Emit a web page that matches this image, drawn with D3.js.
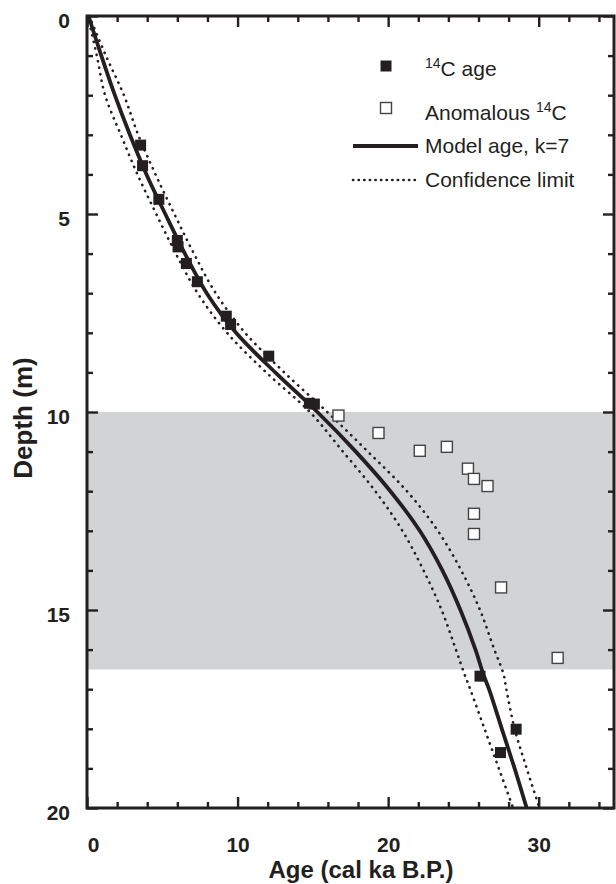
<!DOCTYPE html>
<html>
<head>
<meta charset="utf-8">
<script src="https://cdn.jsdelivr.net/npm/d3@7"></script>
<style>
	body { margin: 0; background: #fff; }
	svg { display: block; font-family: "Liberation Sans", Arial, Helvetica, sans-serif; }
</style>
</head>
<body>
<div id="chart"></div>
<script>
// 14C ages (filled squares)
const c14Age   = [3.56, 3.69, 4.77, 6.0, 6.05, 6.6, 7.33, 9.25, 9.54, 12.07, 14.77, 15.1, 26.1, 28.5, 27.46];
const c14Depth = [3.26, 3.78, 4.63, 5.67, 5.83, 6.25, 6.71, 7.58, 7.79, 8.59, 9.78, 9.8, 16.67, 18.01, 18.6];

// anomalous 14C (open squares)
const anomAge   = [16.7, 19.36, 22.1, 23.9, 25.3, 25.7, 26.6, 25.7, 25.7, 27.5, 31.26];
const anomDepth = [10.09, 10.53, 10.98, 10.88, 11.43, 11.69, 11.87, 12.57, 13.08, 14.43, 16.21];

// model age curve + confidence limits, read at these depths
const curveDepth = [0, 1, 2, 3, 4, 5, 6, 7, 8, 9, 10, 11, 12, 13, 14, 15, 16, 16.6, 17, 18, 19, 20];
const modelAge   = [0.1, 0.95, 1.85, 2.85, 3.95, 5.2, 6.5, 7.95, 9.9, 12.5, 15.3, 17.85, 20.15, 22.1, 23.6, 24.8, 25.8, 26.3, 26.7, 27.55, 28.4, 29.2];
const lowerAge   = [0.05, 0.65, 1.2, 2.25, 3.35, 4.6, 5.9, 7.35, 9.3, 11.9, 14.8, 17.0, 19.15, 20.95, 22.35, 23.55, 24.5, 25.05, 25.45, 26.4, 27.35, 28.3];
const upperAge   = [0.15, 1.25, 2.45, 3.4, 4.55, 5.8, 7.1, 8.55, 10.5, 13.1, 15.95, 18.65, 21.25, 23.3, 24.85, 26.1, 27.05, 27.65, 27.85, 28.4, 29.2, 30.05];

// shaded depth interval
const bandDepth = [10, 16.5];

const xMajor = [0, 10, 20, 30];
const yMajor = [0, 5, 10, 15, 20];

const width = 616, height = 884;
const margin = { left: 87, right: 2, top: 16, bottom: 76 };
const ink = "#231f20";

const svg = d3.select("#chart").append("svg")
	.attr("width", width)
	.attr("height", height);

const x = d3.scaleLinear().domain([0, 35]).range([margin.left, width - margin.right]);
const y = d3.scaleLinear().domain([0, 20]).range([margin.top, height - margin.bottom]);

// grey band
svg.append("rect")
	.attr("x", x(0))
	.attr("width", x(35) - x(0))
	.attr("y", y(bandDepth[0]))
	.attr("height", y(bandDepth[1]) - y(bandDepth[0]))
	.attr("fill", "#d1d3d4");

// curves
const line = (ages) => d3.line()
	.x((d, i) => x(ages[i]))
	.y((d) => y(d))
	.curve(d3.curveCatmullRom)(curveDepth);

svg.append("path")
	.attr("d", line(lowerAge))
	.attr("fill", "none").attr("stroke", ink)
	.attr("stroke-width", 2.6).attr("stroke-linecap", "round")
	.attr("stroke-dasharray", "0.3 6.3");

svg.append("path")
	.attr("d", line(upperAge))
	.attr("fill", "none").attr("stroke", ink)
	.attr("stroke-width", 2.6).attr("stroke-linecap", "round")
	.attr("stroke-dasharray", "0.3 6.3");

svg.append("path")
	.attr("d", line(modelAge))
	.attr("fill", "none").attr("stroke", ink)
	.attr("stroke-width", 3.8);

// points
const sq = 11;
svg.append("g").selectAll("rect")
	.data(anomAge)
	.enter().append("rect")
	.attr("x", (d) => x(d) - sq / 2)
	.attr("y", (d, i) => y(anomDepth[i]) - sq / 2)
	.attr("width", sq).attr("height", sq)
	.attr("fill", "#fff").attr("stroke", "#444").attr("stroke-width", 1.4);

svg.append("g").selectAll("rect")
	.data(c14Age)
	.enter().append("rect")
	.attr("x", (d) => x(d) - sq / 2)
	.attr("y", (d, i) => y(c14Depth[i]) - sq / 2)
	.attr("width", sq).attr("height", sq)
	.attr("fill", ink);

// axes: ticks point inward, minor every 2 ka / 1 m
function styleAxis(g) {
	g.select(".domain").remove();
	g.selectAll(".tick line").attr("stroke", ink).attr("stroke-width", 2.4);
	g.selectAll("text")
		.attr("fill", ink)
		.style("font-size", "21px")
		.style("font-weight", "bold")
		.style("font-family", "'Liberation Sans', Arial, sans-serif");
}

const xMinor = d3.range(0, 35, 2).filter((v) => !xMajor.includes(v));
const yMinor = d3.range(0, 21, 1).filter((v) => !yMajor.includes(v));

// bottom
svg.append("g").attr("transform", `translate(0,${y(20)})`)
	.call(d3.axisBottom(x).tickValues(xMinor).tickSize(-6).tickFormat(""))
	.call(styleAxis);
svg.append("g").attr("transform", `translate(0,${y(20)})`)
	.call(d3.axisBottom(x).tickValues(xMajor).tickSize(-11).tickPadding(29).tickFormat(d3.format("d")))
	.call(styleAxis)
	.call((g) => g.selectAll("text").attr("dx", (d) => d === 0 ? 6 : 0));
// top
svg.append("g").attr("transform", `translate(0,${y(0)})`)
	.call(d3.axisTop(x).tickValues(xMinor).tickSize(-6).tickFormat(""))
	.call(styleAxis);
svg.append("g").attr("transform", `translate(0,${y(0)})`)
	.call(d3.axisTop(x).tickValues(xMajor).tickSize(-11).tickFormat(""))
	.call(styleAxis);
// left
svg.append("g").attr("transform", `translate(${x(0)},0)`)
	.call(d3.axisLeft(y).tickValues(yMinor).tickSize(-6).tickFormat(""))
	.call(styleAxis);
svg.append("g").attr("transform", `translate(${x(0)},0)`)
	.call(d3.axisLeft(y).tickValues(yMajor).tickSize(-11).tickPadding(17).tickFormat(d3.format("d")))
	.call(styleAxis)
	.call((g) => g.selectAll("text").attr("dy", "0.55em"));
// right
svg.append("g").attr("transform", `translate(${x(35)},0)`)
	.call(d3.axisRight(y).tickValues(yMinor).tickSize(-6).tickFormat(""))
	.call(styleAxis);
svg.append("g").attr("transform", `translate(${x(35)},0)`)
	.call(d3.axisRight(y).tickValues(yMajor).tickSize(-11).tickFormat(""))
	.call(styleAxis);

// frame
svg.append("rect")
	.attr("x", x(0)).attr("y", y(0))
	.attr("width", x(35) - x(0)).attr("height", y(20) - y(0))
	.attr("fill", "none").attr("stroke", ink).attr("stroke-width", 3);

// axis titles
svg.append("text")
	.attr("x", 361).attr("y", 878)
	.attr("text-anchor", "middle")
	.attr("fill", ink)
	.style("font-size", "24px").style("font-weight", "bold")
	.text("Age (cal ka B.P.)");

svg.append("text")
	.attr("transform", `translate(32,${(y(0) + y(20)) / 2 + 6}) rotate(-90)`)
	.attr("text-anchor", "middle")
	.attr("fill", ink)
	.style("font-size", "26px").style("font-weight", "bold")
	.text("Depth (m)");

// legend
const legend = svg.append("g").style("font-size", "21px").attr("fill", ink);
const legY = { age: 66, anom: 108, model: 146, conf: 180 };

legend.append("rect")
	.attr("x", 386 - sq / 2).attr("y", legY.age - sq / 2)
	.attr("width", sq).attr("height", sq).attr("fill", ink);
legend.append("rect")
	.attr("x", 386 - sq / 2).attr("y", legY.anom - sq / 2)
	.attr("width", sq).attr("height", sq)
	.attr("fill", "#fff").attr("stroke", "#444").attr("stroke-width", 1.4);
legend.append("line")
	.attr("x1", 353).attr("x2", 418).attr("y1", legY.model).attr("y2", legY.model)
	.attr("stroke", ink).attr("stroke-width", 3.8);
legend.append("line")
	.attr("x1", 353).attr("x2", 418).attr("y1", legY.conf).attr("y2", legY.conf)
	.attr("stroke", ink).attr("stroke-width", 2.6).attr("stroke-linecap", "round")
	.attr("stroke-dasharray", "0.3 5.3");

const t1 = legend.append("text").attr("x", 425).attr("y", legY.age + 10);
t1.append("tspan").attr("dy", -8).style("font-size", "14px").text("14");
t1.append("tspan").attr("dy", 8).text("C age");

const t2 = legend.append("text").attr("x", 425).attr("y", legY.anom + 12);
t2.append("tspan").text("Anomalous ");
t2.append("tspan").attr("dy", -8).style("font-size", "14px").text("14");
t2.append("tspan").attr("dy", 8).text("C");

legend.append("text").attr("x", 425).attr("y", legY.model + 7).text("Model age, k=7");
legend.append("text").attr("x", 425).attr("y", legY.conf + 7).text("Confidence limit");
</script>
</body>
</html>
